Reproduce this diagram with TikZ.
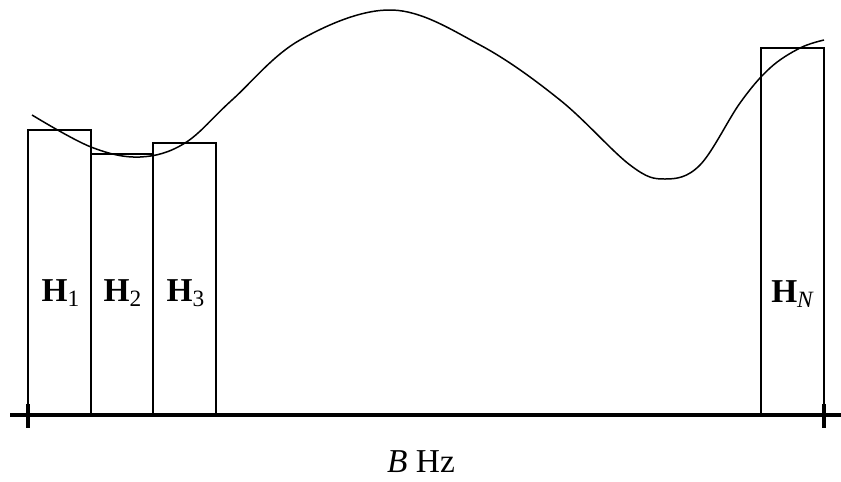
\documentclass[tikz,border=0pt]{standalone}
\usepackage{fontspec}
\setmainfont{Liberation Serif}
\begin{document}
\begin{tikzpicture}[x=0.02cm,y=-0.02cm,line width=0.85pt]
\tikzset{lbl/.style={inner sep=0pt,font=\fontsize{19}{22}\selectfont}}
\useasboundingbox (0,0) rectangle (841,481);
\draw (28,415) rectangle (91,130);
\draw (91,415) rectangle (153,154);
\draw (153,415) rectangle (216,143);
\draw (761,415) rectangle (824,48);
\node[lbl] (h1) at (61,293) {\textbf{H}\textsubscript{1}};
\node[lbl] (h2) at (123,293) {\textbf{H}\textsubscript{2}};
\node[lbl] (h3) at (186,293) {\textbf{H}\textsubscript{3}};
\node[lbl] (hn) at (793,294) {\textbf{H}\textsubscript{\textit{N}}};
\draw[line width=1.8pt] (10,415) -- (841,415);
\draw[line width=1.8pt] (28,404) -- (28,428);
\draw[line width=1.8pt] (824,404) -- (824,428);
\node[lbl] (bw) at (421,462) {\textit{B} Hz};
\draw plot[smooth,tension=0.6] coordinates {(32,115) (91,147) (140,157) (185,143) (232,100) (300,40) (392,10) (480,45) (560,100) (630,165) (665,179) (700,165) (740,103) (770,68) (800,48) (824,40)};
\end{tikzpicture}
\end{document}
